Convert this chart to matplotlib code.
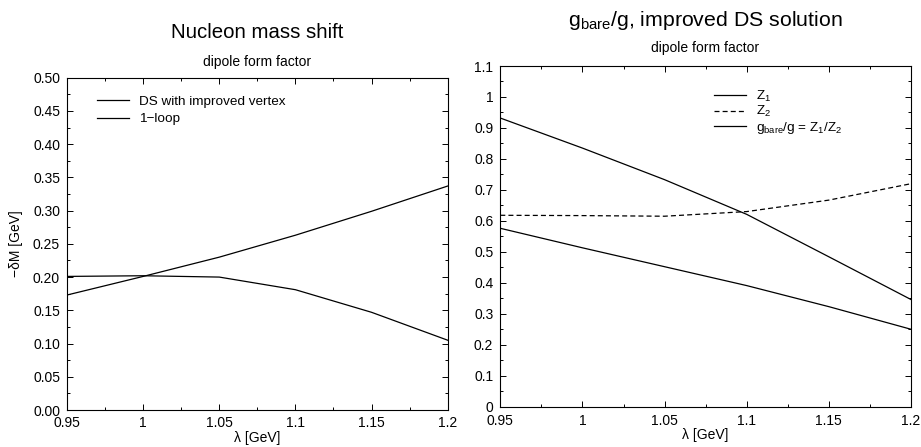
import matplotlib
matplotlib.use("Agg")
import matplotlib.pyplot as plt
from matplotlib.ticker import MultipleLocator, FormatStrFormatter

plt.rcParams["font.family"] = ["Liberation Sans", "DejaVu Sans"]
plt.rcParams["mathtext.fontset"] = "custom"
plt.rcParams["mathtext.rm"] = "Liberation Sans"
plt.rcParams["mathtext.it"] = "Liberation Sans"

# ── data ─────────────────────────────────────────────────────────────────────
lam = [0.95, 1.0, 1.05, 1.1, 1.15, 1.2]

dm_ds    = [0.201, 0.202, 0.200, 0.181, 0.147, 0.105]
dm_1loop = [0.173, 0.201, 0.230, 0.263, 0.299, 0.337]

z1    = [0.576, 0.513, 0.452, 0.391, 0.323, 0.250]
z2    = [0.618, 0.617, 0.615, 0.630, 0.667, 0.720]
ratio = [0.932, 0.835, 0.733, 0.621, 0.484, 0.346]

W, H = 921, 447
fig = plt.figure(figsize=(W / 100, H / 100), dpi=100)

def style(ax, xmaj, xmin, ymaj, ymin):
    ax.xaxis.set_major_locator(MultipleLocator(xmaj))
    ax.xaxis.set_minor_locator(MultipleLocator(xmin))
    ax.yaxis.set_major_locator(MultipleLocator(ymaj))
    ax.yaxis.set_minor_locator(MultipleLocator(ymin))
    ax.tick_params(which="both", direction="in", top=True, right=True,
                   labelsize=10, width=0.7, pad=5)
    ax.tick_params(which="major", length=4)
    ax.tick_params(which="minor", length=2.5)
    ax.tick_params(axis="x", pad=4)
    for s in ax.spines.values():
        s.set_linewidth(0.8)

def xfmt(v, pos):
    return ("%.2f" % v).rstrip("0").rstrip(".") if v else "0"

# ── left: nucleon mass shift ────────────────────────────────────────────────
ax1 = fig.add_axes([67 / W, 1 - 410 / H, 380.7 / W, 332.3 / H])
ax1.plot(lam, dm_ds, color="black", lw=0.9, label="DS with improved vertex")
ax1.plot(lam, dm_1loop, color="black", lw=0.9, label="1\u2212loop")
ax1.set_xlim(0.95, 1.2)
ax1.set_ylim(0, 0.5)
style(ax1, 0.05, 0.025, 0.05, 0.025)
ax1.xaxis.set_major_formatter(plt.FuncFormatter(xfmt))
ax1.yaxis.set_major_formatter(FormatStrFormatter("%.2f"))
ax1.set_xlabel("\u03bb [GeV]", fontsize=10, labelpad=1)
ax1.set_ylabel("\u2212\u03b4M [GeV]", fontsize=10, labelpad=7)
ax1.legend(loc="upper left", bbox_to_anchor=(0.079, 0.946), frameon=False,
           fontsize=9.7, handlelength=2.4, handletextpad=0.7,
           labelspacing=0.35, borderpad=0, borderaxespad=0)
fig.text(257 / W, 1 - 32 / H, "Nucleon mass shift", ha="center", va="center",
         fontsize=14.7)
fig.text(257 / W, 1 - 62 / H, "dipole form factor", ha="center", va="center",
         fontsize=10)

# ── right: g_bare / g ───────────────────────────────────────────────────────
ax2 = fig.add_axes([500.3 / W, 1 - 406.7 / H, 410.7 / W, 340.7 / H])
ax2.plot(lam, z1, color="black", lw=0.9, label="Z$_1$")
ax2.plot(lam, z2, color="black", lw=0.9, ls=(0, (4, 2.5)), label="Z$_2$")
ax2.plot(lam, ratio, color="black", lw=0.9,
         label="g$_{\\rm bare}$/g = Z$_1$/Z$_2$")
ax2.set_xlim(0.95, 1.2)
ax2.set_ylim(0, 1.1)
style(ax2, 0.05, 0.025, 0.1, 0.05)
ax2.tick_params(axis="x", pad=5.5)
ax2.xaxis.set_major_formatter(plt.FuncFormatter(xfmt))
ax2.yaxis.set_major_formatter(plt.FuncFormatter(xfmt))
ax2.set_xlabel("\u03bb [GeV]", fontsize=10, labelpad=0)
ax2.legend(loc="upper left", bbox_to_anchor=(0.520, 0.934), frameon=False,
           fontsize=9.7, handlelength=2.4, handletextpad=0.7,
           labelspacing=0.05, borderpad=0, borderaxespad=0)
fig.text(705 / W, 1 - 20 / H, "g$_{\\rm bare}$/g, improved DS solution",
         ha="center", va="center", fontsize=15.3)
fig.text(705 / W, 1 - 48 / H, "dipole form factor", ha="center", va="center",
         fontsize=10)

fig.savefig("out.png", dpi=100)
